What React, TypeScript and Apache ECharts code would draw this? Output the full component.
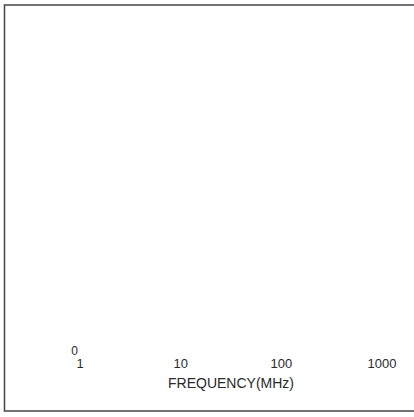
import React, { useEffect, useRef } from "react";
import * as echarts from "echarts";

const xTickLabels = [1, 10, 100, 1000];
const yTickLabels = [0];
const seriesValues: [number, number][] = [];

export default function App() {
  const ref = useRef<HTMLDivElement>(null);
  useEffect(() => {
    if (!ref.current) return;
    const chart = echarts.init(ref.current, undefined, { renderer: "svg" });
    chart.setOption({
      animation: false,
      textStyle: { fontFamily: "Liberation Sans, Arial, sans-serif" },
      graphic: [
        {
          type: "polyline",
          shape: { points: [[420, 5], [4.5, 5], [4.5, 411], [420, 411]] },
          style: { stroke: "#4a4545", lineWidth: 1.5, fill: "none" },
          silent: true,
        },
      ],
      grid: { left: 80, right: 32, top: 20, bottom: 66 },
      xAxis: {
        type: "log",
        logBase: 10,
        min: xTickLabels[0],
        max: xTickLabels[xTickLabels.length - 1],
        name: "FREQUENCY(MHz)",
        nameLocation: "middle",
        nameGap: 25,
        nameTextStyle: { color: "#2a2a2a", fontSize: 14 },
        axisLine: { show: false },
        axisTick: { show: false },
        splitLine: { show: false },
        minorSplitLine: { show: false },
        axisLabel: {
          color: "#2a2a2a",
          fontSize: 13,
          margin: 6,
          formatter: (v: number) => String(Math.round(v)),
        },
      },
      yAxis: {
        type: "value",
        min: 0,
        max: 1,
        interval: 1,
        axisLine: { show: false },
        axisTick: { show: false },
        splitLine: { show: false },
        axisLabel: {
          color: "#2a2a2a",
          fontSize: 12,
          margin: 2,
          formatter: (v: number) => (yTickLabels.includes(v) ? String(v) : ""),
        },
      },
      series: [
        {
          type: "line",
          data: seriesValues,
          showSymbol: false,
        },
      ],
    });
    return () => chart.dispose();
  }, []);
  return (
    <div
      ref={ref}
      style={{ position: "absolute", left: 0, top: 0, width: 414, height: 417, background: "#fff" }}
    />
  );
}
